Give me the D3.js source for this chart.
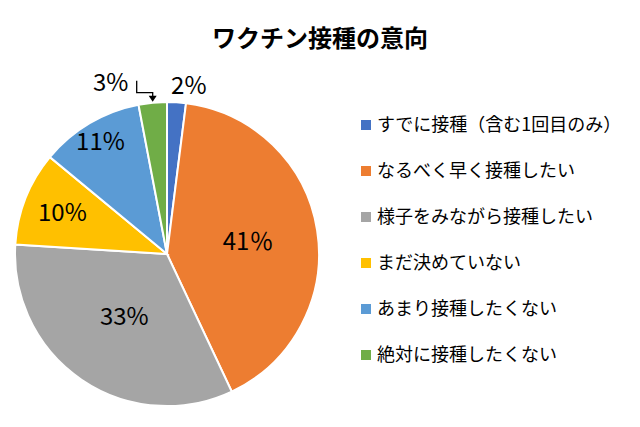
<!DOCTYPE html>
<html><head><meta charset="utf-8">
<script src="https://cdn.jsdelivr.net/npm/d3@7"></script>
<style>body{margin:0;background:#fff}text{font-family:"Noto Sans CJK JP",sans-serif}</style>
</head><body>
<svg id="c" width="640" height="427"></svg>
<script>
const categories = ['すでに接種（含む1回目のみ）', 'なるべく早く接種したい', '様子をみながら接種したい', 'まだ決めていない', 'あまり接種したくない', '絶対に接種したくない'];
const values = [2, 41, 33, 10, 11, 3];
const labels = ['2%', '41％', '33%', '10%', '11%', '3%'];
const colors = ['#4472C4', '#ED7D31', '#A5A5A5', '#FFC000', '#5B9BD5', '#70AD47'];

const svg = d3.select('#c');
svg.append('text').attr('x', 320).attr('y', 47).attr('text-anchor', 'middle')
  .attr('font-size', 24).attr('font-weight', 'bold').text('ワクチン接種の意向');

const cx = 167, cy = 254, r = 152;
const pie = d3.pie().sort(null).value((d) => d)(values);
const arc = d3.arc().innerRadius(0).outerRadius(r);
const g = svg.append('g').attr('transform', `translate(${cx},${cy})`);
g.selectAll('path').data(pie).join('path')
  .attr('d', arc).attr('fill', (d, i) => colors[i])
  .attr('stroke', '#fff').attr('stroke-width', 2);

// label distance as fraction of radius (Excel best-fit placement)
const labelPos = [0, 0.54, 0.5, 0.74, 0.86, 0];
const font = 'Liberation Sans, sans-serif';
g.selectAll('text.in').data(pie.filter((d) => labelPos[d.index] > 0)).join('text')
  .attr('class', 'in')
  .attr('transform', (d) => {
    const k = r * labelPos[d.index];
    return `translate(${d3.arc().innerRadius(k).outerRadius(k).centroid(d)})`;
  })
  .attr('text-anchor', 'middle').attr('dy', '0.35em')
  .attr('font-size', 24).attr('font-family', font)
  .text((d) => labels[d.index]);

const p0 = d3.arc().innerRadius(r + 20).outerRadius(r + 20).centroid(pie[0]);
g.append('text').attr('x', p0[0] + 11).attr('y', p0[1] + 3).attr('text-anchor', 'middle')
  .attr('dy', '0.35em').attr('font-size', 24).attr('font-family', font).text(labels[0]);
const p5 = d3.arc().innerRadius(r).outerRadius(r).centroid(pie[5]);
g.append('text').attr('x', p5[0] - 42).attr('y', p5[1] - 20).attr('text-anchor', 'middle')
  .attr('dy', '0.35em').attr('font-size', 24).attr('font-family', font).text(labels[5]);
g.append('path')
  .attr('d', `M${p5[0] - 16},${p5[1] - 22}V${p5[1] - 10}H${p5[0]}V${p5[1] - 6}`)
  .attr('fill', 'none').attr('stroke', '#000').attr('stroke-width', 1.3);
g.append('path')
  .attr('d', `M${p5[0] - 4},${p5[1] - 7}L${p5[0] + 4},${p5[1] - 7}L${p5[0]},${p5[1] - 1}Z`)
  .attr('fill', '#000');

const rows = svg.append('g').selectAll('g').data(categories).join('g')
  .attr('transform', (d, i) => `translate(361,${125 + i * 46})`);
rows.append('rect').attr('x', 0).attr('y', -5).attr('width', 10).attr('height', 10)
  .attr('fill', (d, i) => colors[i]);
rows.append('text').attr('x', 16).attr('dy', '0.35em').attr('font-size', 18).text((d) => d);
</script>
</body></html>
